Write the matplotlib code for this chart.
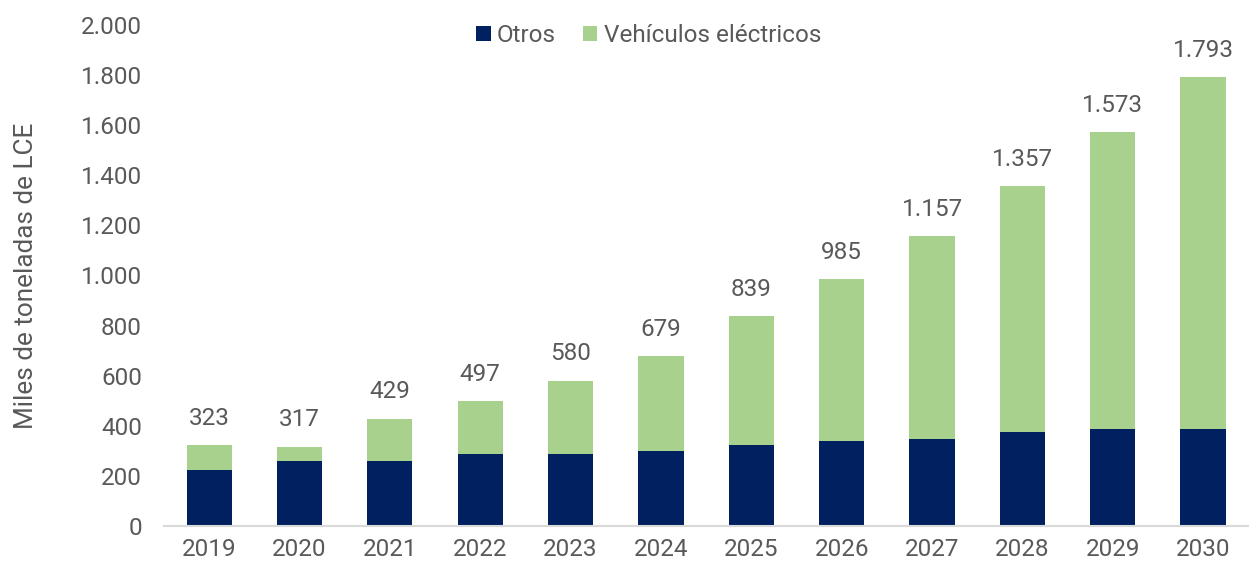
import matplotlib.pyplot as plt
import numpy as np

# ================= DATA =================
years = ['2019', '2020', '2021', '2022', '2023', '2024',
         '2025', '2026', '2027', '2028', '2029', '2030']
otros = [224, 260, 260, 287, 287, 298, 325, 340, 349, 375, 387, 388]
totales = [323, 317, 429, 497, 580, 679, 839, 985, 1157, 1357, 1573, 1793]
ve = [t - o for t, o in zip(totales, otros)]

# ================= STYLE =================
navy = '#002060'
green = '#A9D18E'
text_color = '#595959'
fs = 17.5
plt.rcParams['font.family'] = ['Roboto', 'DejaVu Sans']

fig = plt.figure(figsize=(12.52, 5.68), dpi=100)
ax = fig.add_axes([0.131, 0.074, 0.866, 0.882])

x = np.arange(len(years))
ax.bar(x, otros, width=0.5, color=navy, label='Otros')
ax.bar(x, ve, width=0.5, bottom=otros, color=green, label='Vehículos eléctricos')

# Total labels above each bar
for xi, t in zip(x, totales):
    lbl = f'{t:,}'.replace(',', '.')
    ax.annotate(lbl, (xi, t), xytext=(0, 11), textcoords='offset points',
                ha='center', va='bottom', fontsize=fs, color=text_color,
                annotation_clip=False)

ax.set_xlim(-0.5, len(years) - 0.5)
ax.set_ylim(0, 2000)
ax.set_yticks(range(0, 2001, 200))
ax.set_yticklabels([f'{v:,}'.replace(',', '.') for v in range(0, 2001, 200)])
ax.set_xticks(x)
ax.set_xticklabels(years)
ax.tick_params(axis='both', length=0, labelsize=fs, labelcolor=text_color)
ax.tick_params(axis='x', pad=9)
ax.tick_params(axis='y', pad=16)

for s in ['top', 'right', 'left']:
    ax.spines[s].set_visible(False)
ax.spines['bottom'].set_color('#D9D9D9')
ax.spines['bottom'].set_linewidth(1.5)

ax.set_ylabel('Miles de toneladas de LCE', fontsize=18.8, color=text_color, labelpad=31)

leg = ax.legend(loc='upper center', bbox_to_anchor=(0.447, 1.045), ncol=2,
                frameon=False, fontsize=fs, handlelength=0.6, handleheight=0.6,
                handletextpad=0.25, columnspacing=1.1)
for txt in leg.get_texts():
    txt.set_color(text_color)

fig.savefig('out.png', dpi=100)
